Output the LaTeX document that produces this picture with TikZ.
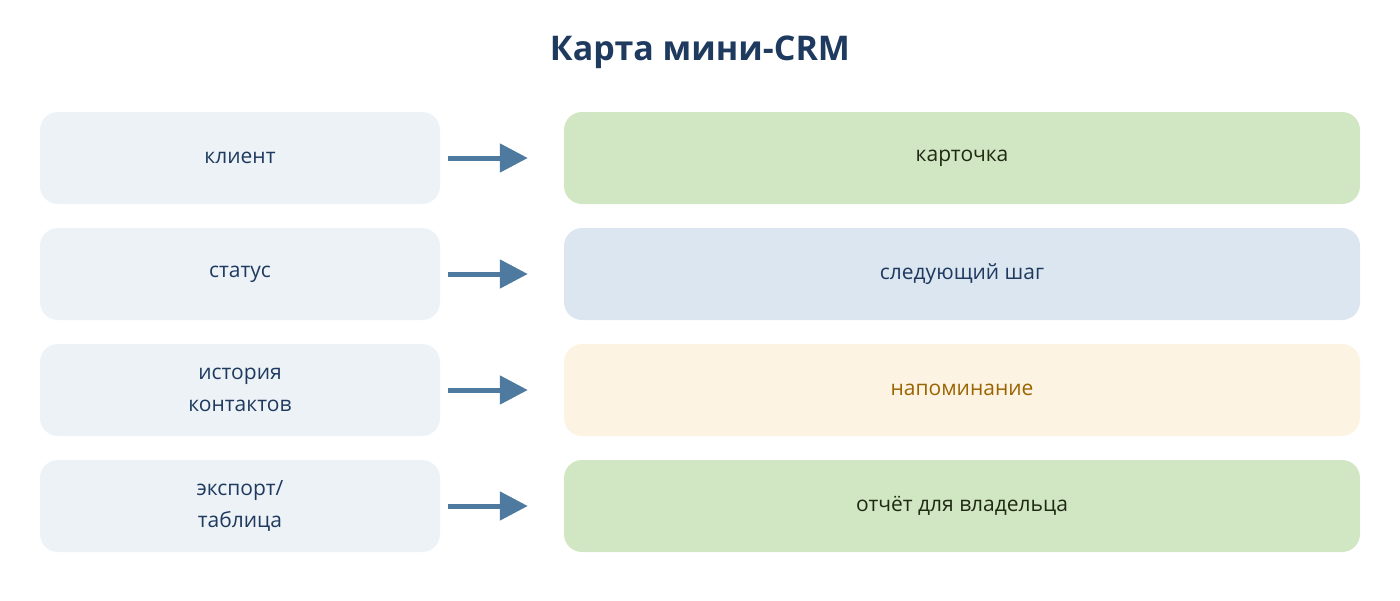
\documentclass[tikz,border=0pt]{standalone}
\usepackage{fontspec}
\setmainfont{Open Sans}
\usetikzlibrary{arrows.meta}
\definecolor{ink}{HTML}{1F3A5F}
\definecolor{leftfill}{HTML}{EDF2F7}
\definecolor{greenfill}{HTML}{D1E6C3}
\definecolor{bluefill}{HTML}{DCE6F0}
\definecolor{creamfill}{HTML}{FDF3E3}
\definecolor{creamtext}{HTML}{9A6400}
\definecolor{greentext}{HTML}{1F2A12}
\definecolor{arrowcol}{HTML}{4F7AA0}
\tikzset{
  box/.style={rounded corners=18pt, minimum height=92pt, inner sep=0pt, align=center,
    font=\fontsize{21pt}{32pt}\selectfont},
  src/.style={box, fill=leftfill, text=ink, minimum width=400pt},
  dst/.style={box, minimum width=796pt},
  flow/.style={arrowcol, line width=5pt, shorten <=8pt, shorten >=36pt,
    -{Triangle[length=28pt,width=28pt]}},
}
\begin{document}
\begin{tikzpicture}[x=1pt,y=-1pt]
  \useasboundingbox (0,0) rectangle (1400,600);
  \node[font=\fontsize{34pt}{40pt}\selectfont\bfseries, text=ink] (title) at (700,52) {Карта мини-CRM};

  \node[src] (client) at (240,158) {клиент};
  \node[src] (status) at (240,274) {статус};
  \node[src] (history) at (240,390) {история\\контактов};
  \node[src] (export) at (240,506) {экспорт/\\таблица};

  \node[dst, fill=greenfill, text=greentext] (card) at (962,158) {карточка};
  \node[dst, fill=bluefill, text=ink] (step) at (962,274) {следующий шаг};
  \node[dst, fill=creamfill, text=creamtext] (remind) at (962,390) {напоминание};
  \node[dst, fill=greenfill, text=greentext] (report) at (962,506) {отчёт для владельца};

  \draw[flow] (client) -- (card);
  \draw[flow] (status) -- (step);
  \draw[flow] (history) -- (remind);
  \draw[flow] (export) -- (report);
\end{tikzpicture}
\end{document}
